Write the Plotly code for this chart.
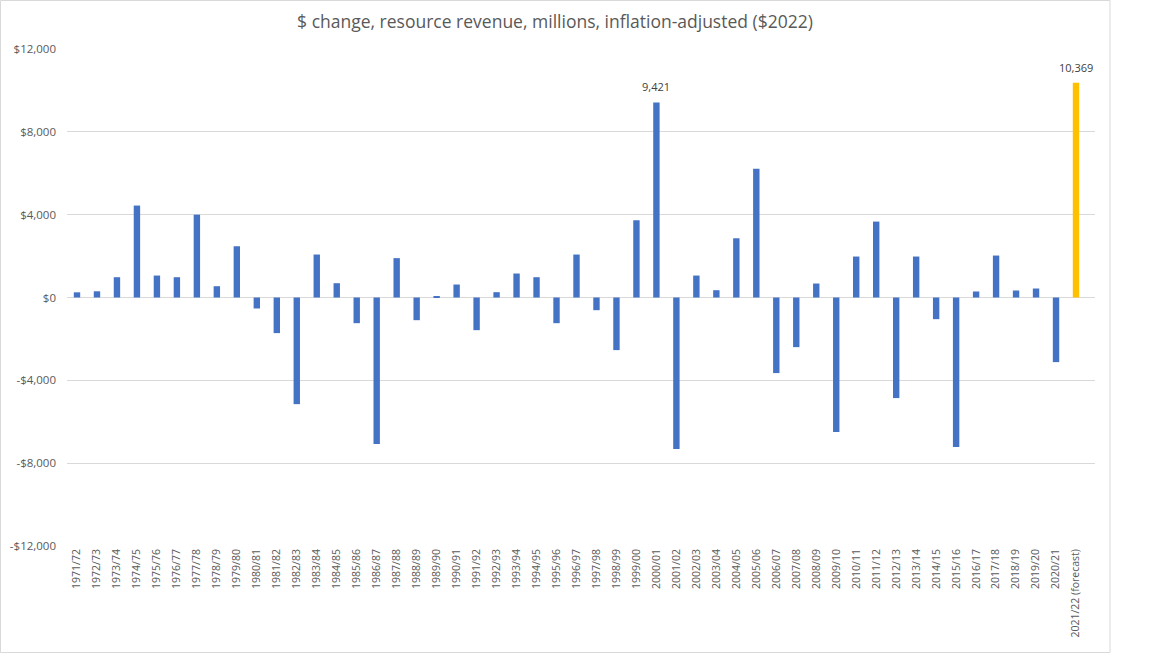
import plotly.graph_objects as go

categories = ["1971/72", "1972/73", "1973/74", "1974/75", "1975/76", "1976/77", "1977/78", "1978/79",
              "1979/80", "1980/81", "1981/82", "1982/83", "1983/84", "1984/85", "1985/86", "1986/87",
              "1987/88", "1988/89", "1989/90", "1990/91", "1991/92", "1992/93", "1993/94", "1994/95",
              "1995/96", "1996/97", "1997/98", "1998/99", "1999/00", "2000/01", "2001/02", "2002/03",
              "2003/04", "2004/05", "2005/06", "2006/07", "2007/08", "2008/09", "2009/10", "2010/11",
              "2011/12", "2012/13", "2013/14", "2014/15", "2015/16", "2016/17", "2017/18", "2018/19",
              "2019/20", "2020/21", "2021/22 (forecast)"]

values = [250, 300, 980, 4440, 1060, 980, 4000, 545,
          2475, -530, -1720, -5150, 2075, 690, -1240, -7075,
          1900, -1095, 60, 627, -1577, 256, 1158, 980,
          -1240, 2075, -612, -2540, 3730, 9421, -7318, 1060,
          352, 2860, 6223, -3650, -2397, 675, -6497, 1978,
          3666, -4857, 1978, -1047, -7220, 290, 2026, 338,
          434, -3120, 10369]

labelled = ["2000/01", "2021/22 (forecast)"]
highlight = "2021/22 (forecast)"

y_ticks = [-12000, -8000, -4000, 0, 4000, 8000, 12000]
y_tick_text = ["-$12,000", "-$8,000", "-$4,000", "$0", "$4,000", "$8,000", "$12,000"]

title_text = "$ change, resource revenue, millions, inflation-adjusted ($2022)"

colors = ["#FFC000" if c == highlight else "#4472C4" for c in categories]

fig = go.Figure(go.Bar(
    x=categories, y=values,
    marker=dict(color=colors, line=dict(width=0)),
    hoverinfo="x+y",
))

annotations = [
    dict(x=c, y=v, xref="x", yref="y", text=f"{v:,}", showarrow=False,
         yanchor="bottom", yshift=6,
         font=dict(family="Open Sans", size=11, color="#404040"))
    for c, v in zip(categories, values) if c in labelled
]

W, H = 1152, 654
L, R, T, B = 67, 57, 49, 108
pw, ph = W - L - R, H - T - B
fig.update_layout(
    width=W, height=H,
    margin=dict(l=L, r=R, t=T, b=B),
    paper_bgcolor="white", plot_bgcolor="white",
    bargap=0.68,
    showlegend=False,
    title=dict(text=title_text, x=555 / W, xanchor="center", y=1 - 22 / H, yanchor="middle",
               font=dict(family="Open Sans", size=17.5, color="#595959")),
    font=dict(family="Open Sans", color="#595959"),
    xaxis=dict(type="category", tickangle=-90, tickfont=dict(size=10.5, color="#595959"),
               showgrid=False, showline=False, ticks="", automargin=False),
    yaxis=dict(range=[-12000, 12000], tickvals=y_ticks, ticktext=y_tick_text,
               tickfont=dict(size=11.5, color="#595959"), ticklabelstandoff=10,
               showgrid=True, gridcolor="#D9D9D9", gridwidth=1,
               zeroline=True, zerolinecolor="#D9D9D9", zerolinewidth=1,
               showline=False, ticks="", automargin=False),
    annotations=annotations,
    shapes=[dict(type="rect", xref="paper", yref="paper",
                 x0=(-L + 0.5) / pw, x1=(1110 - L) / pw,
                 y0=-(B - 1.5) / ph, y1=1 + (T - 0.5) / ph,
                 line=dict(color="#D9D9D9", width=1), fillcolor="rgba(0,0,0,0)", layer="below")],
)

fig.write_html("out.html", config={"displayModeBar": False},
               post_script="document.body.style.margin='0px';")
